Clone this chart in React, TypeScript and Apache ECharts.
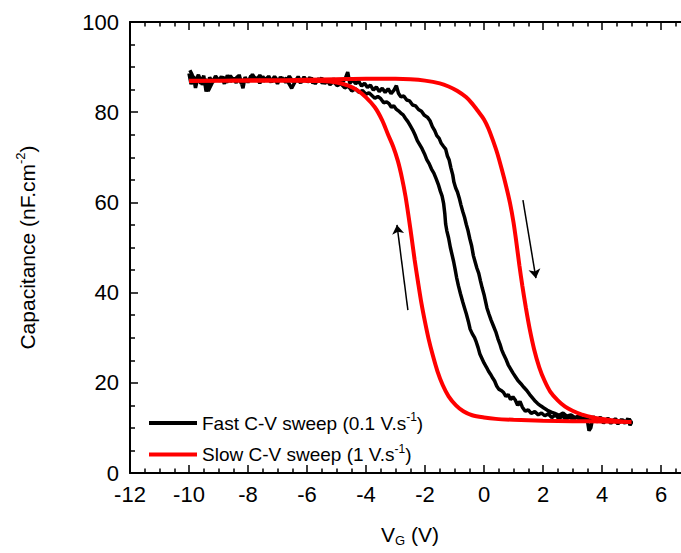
import React, { useEffect, useRef } from "react";
import * as echarts from "echarts";

// ---------- data ----------
const fastLabel = "Fast C-V sweep (0.1 V.s-1)";
const slowLabel = "Slow C-V sweep (1 V.s-1)";

const xTickMin = -12;
const xTickMax = 8;
const xTickStep = 2;
const yTickMin = 0;
const yTickMax = 100;
const yTickStep = 20;

// fast sweep, forward (-10 -> 5)
const fastForward: number[][] = [
  [-10.0, 88.6], [-9.93, 86.2], [-9.85, 88.0], [-9.78, 85.4], [-9.7, 87.6], [-9.6, 86.4], [-9.5, 88.1], [-9.42, 84.6],
  [-9.3, 87.7], [-9.2, 86.6], [-9.1, 88.0], [-9.0, 86.9], [-8.9, 87.9], [-8.8, 86.3], [-8.7, 88.2], [-8.6, 86.8],
  [-8.5, 87.6], [-8.4, 86.5], [-8.3, 88.3], [-8.17, 85.3], [-8.1, 87.8], [-8.0, 86.6], [-7.9, 88.1], [-7.8, 87.1],
  [-7.7, 87.7], [-7.6, 86.4], [-7.5, 87.9], [-7.4, 86.9], [-7.3, 88.0], [-7.2, 86.7], [-7.1, 87.5], [-7.0, 86.3],
  [-6.9, 87.8], [-6.8, 87.0], [-6.7, 87.6], [-6.6, 86.2], [-6.52, 85.3], [-6.4, 86.8], [-6.3, 87.9], [-6.2, 86.6],
  [-6.1, 87.5], [-6.0, 86.9], [-5.9, 87.7], [-5.8, 86.4], [-5.7, 87.3], [-5.6, 86.8], [-5.5, 87.6], [-5.4, 86.3],
  [-5.3, 87.2], [-5.2, 86.7], [-5.1, 87.4], [-5.0, 86.5], [-4.9, 87.1], [-4.8, 86.6], [-4.7, 87.5], [-4.62, 88.9],
  [-4.55, 86.4], [-4.45, 87.2], [-4.35, 86.3], [-4.25, 86.9], [-4.15, 85.8], [-4.05, 86.4], [-3.95, 85.5], [-3.85, 86.0],
  [-3.75, 84.9], [-3.65, 85.6], [-3.55, 84.6], [-3.45, 85.3], [-3.35, 84.4], [-3.25, 85.2], [-3.15, 84.1], [-3.05, 84.9],
  [-2.97, 85.9], [-2.9, 84.2], [-2.82, 83.4], [-2.72, 83.6], [-2.62, 82.7], [-2.52, 82.5], [-2.42, 81.6], [-2.32, 81.4],
  [-2.22, 80.6], [-2.12, 80.2], [-2.02, 79.3], [-1.92, 78.9], [-1.83, 78.1], [-1.75, 76.8], [-1.67, 75.9], [-1.6, 74.8],
  [-1.52, 74.2], [-1.45, 73.1], [-1.37, 72.4], [-1.3, 71.8], [-1.24, 70.3], [-1.18, 69.4], [-1.12, 67.6], [-1.06, 66.1],
  [-1.02, 64.5], [-0.96, 63.2], [-0.9, 62.3], [-0.84, 61.0], [-0.78, 59.4], [-0.72, 58.0], [-0.66, 56.7], [-0.6, 55.1],
  [-0.54, 53.7], [-0.48, 51.9], [-0.42, 50.4], [-0.36, 48.2], [-0.3, 46.8], [-0.24, 45.4], [-0.18, 44.3], [-0.12, 42.6],
  [-0.06, 41.0], [0.0, 39.6], [0.05, 38.1], [0.1, 36.6], [0.17, 35.2], [0.24, 33.9], [0.32, 32.6], [0.4, 31.3],
  [0.47, 29.8], [0.54, 28.6], [0.6, 27.3], [0.66, 26.4], [0.74, 25.3], [0.82, 24.0], [0.9, 23.1], [0.98, 22.2],
  [1.06, 21.4], [1.15, 20.5], [1.25, 19.8], [1.35, 19.0], [1.45, 18.3], [1.55, 17.4], [1.65, 16.6], [1.74, 15.9],
  [1.82, 15.4], [1.92, 14.9], [2.03, 14.4], [2.15, 13.9], [2.28, 13.5], [2.4, 13.2], [2.55, 12.8], [2.68, 13.3],
  [2.8, 12.6], [2.95, 12.9], [3.1, 12.2], [3.22, 12.7], [3.35, 11.9], [3.48, 12.5], [3.58, 11.3], [3.7, 12.4],
  [3.82, 11.7], [3.95, 12.3], [4.08, 11.5], [4.2, 12.1], [4.32, 11.4], [4.45, 12.0], [4.58, 11.2], [4.7, 11.8],
  [4.82, 11.1], [4.92, 12.0], [5.0, 11.2],
];

// fast sweep, reverse (5 -> -10)
const fastReverse: number[][] = [
  [5.0, 11.2], [4.95, 10.6], [4.88, 12.1], [4.78, 11.0], [4.66, 11.9], [4.54, 10.9], [4.42, 11.8], [4.3, 11.0],
  [4.18, 11.9], [4.05, 11.1], [3.92, 12.2], [3.8, 11.3], [3.7, 12.6], [3.62, 10.0], [3.56, 9.4], [3.5, 11.8],
  [3.4, 12.4], [3.28, 11.5], [3.15, 12.5], [3.02, 11.7], [2.9, 12.6], [2.78, 11.8], [2.66, 12.7], [2.54, 12.0],
  [2.42, 12.9], [2.3, 12.3], [2.18, 13.1], [2.06, 12.7], [1.95, 13.3], [1.84, 12.9], [1.72, 13.6], [1.6, 13.2],
  [1.5, 14.0], [1.4, 13.7], [1.3, 14.6], [1.22, 15.9], [1.14, 15.0], [1.06, 16.2], [0.98, 16.9], [0.9, 16.3],
  [0.82, 17.4], [0.74, 17.0], [0.66, 17.9], [0.58, 18.3], [0.5, 18.6], [0.43, 19.3], [0.36, 20.4], [0.3, 21.0],
  [0.22, 21.9], [0.15, 22.6], [0.08, 23.5], [0.0, 24.4], [-0.07, 25.4], [-0.14, 26.4], [-0.2, 27.8], [-0.26, 29.0],
  [-0.32, 30.0], [-0.4, 30.9], [-0.47, 31.9], [-0.53, 33.6], [-0.6, 35.3], [-0.66, 36.6], [-0.72, 37.9], [-0.8, 39.8],
  [-0.87, 41.6], [-0.93, 43.4], [-0.98, 45.2], [-1.03, 46.9], [-1.08, 48.3], [-1.14, 50.0], [-1.2, 52.1], [-1.26, 53.7],
  [-1.3, 55.2], [-1.33, 57.6], [-1.37, 59.8], [-1.42, 61.4], [-1.48, 62.5], [-1.55, 64.0], [-1.62, 65.2], [-1.7, 66.5],
  [-1.78, 67.4], [-1.86, 68.6], [-1.94, 69.5], [-2.02, 70.8], [-2.1, 71.9], [-2.18, 72.8], [-2.26, 73.7], [-2.34, 75.0],
  [-2.42, 76.1], [-2.5, 77.0], [-2.58, 77.9], [-2.66, 78.6], [-2.74, 79.4], [-2.82, 79.8], [-2.9, 80.3], [-2.98, 80.7],
  [-3.06, 81.4], [-3.14, 81.1], [-3.22, 81.9], [-3.3, 82.3], [-3.4, 82.1], [-3.5, 83.0], [-3.6, 83.5], [-3.7, 83.1],
  [-3.8, 83.7], [-3.9, 84.3], [-4.0, 84.0], [-4.12, 84.8], [-4.24, 84.4], [-4.36, 85.2], [-4.48, 84.7], [-4.6, 85.8],
  [-4.72, 85.4], [-4.85, 86.3], [-4.98, 85.9], [-5.1, 86.8], [-5.22, 86.1], [-5.35, 87.3], [-5.48, 86.4], [-5.6, 87.5],
  [-5.72, 86.3], [-5.85, 87.6], [-5.98, 86.7], [-6.1, 87.8], [-6.22, 86.5], [-6.35, 87.4], [-6.48, 86.8], [-6.6, 88.0],
  [-6.72, 86.6], [-6.85, 87.7], [-6.98, 86.9], [-7.1, 87.9], [-7.22, 86.7], [-7.35, 87.6], [-7.48, 86.9], [-7.6, 88.2],
  [-7.72, 87.0], [-7.85, 88.4], [-7.98, 86.8], [-8.1, 87.6], [-8.22, 86.3], [-8.35, 87.9], [-8.48, 87.0], [-8.6, 88.1],
  [-8.72, 86.6], [-8.85, 87.8], [-8.98, 86.9], [-9.1, 88.0], [-9.22, 86.4], [-9.35, 84.7], [-9.45, 87.4], [-9.55, 86.1],
  [-9.68, 88.3], [-9.8, 86.6], [-9.9, 88.4], [-9.97, 89.3],
];

// slow sweep, forward (-10 -> 5)
const slowForward: number[][] = [
  [-10, 87.0], [-9, 87.0], [-8, 87.1], [-7, 87.1], [-6, 87.2], [-5, 87.3], [-4, 87.4], [-3.5, 87.4],
  [-3, 87.4], [-2.5, 87.3], [-2, 87.0], [-1.5, 86.4], [-1.2, 85.7], [-0.9, 84.7], [-0.6, 83.3], [-0.4, 81.9],
  [-0.2, 80.2], [0.0, 78.4], [0.15, 76.4], [0.3, 73.8], [0.45, 70.9], [0.6, 67.4], [0.75, 63.6], [0.88, 59.9],
  [1.0, 55.6], [1.1, 51.0], [1.2, 46.0], [1.3, 41.5], [1.42, 36.6], [1.55, 31.9], [1.7, 27.4], [1.87, 23.5],
  [2.05, 20.5], [2.25, 18.0], [2.5, 16.1], [2.75, 14.7], [3.0, 13.8], [3.3, 13.0], [3.7, 12.3], [4.2, 11.8],
  [4.6, 11.5], [5.0, 11.3],
];

// slow sweep, reverse (5 -> -10)
const slowReverse: number[][] = [
  [5.0, 11.3], [4.0, 11.4], [3.0, 11.5], [2.0, 11.6], [1.0, 11.8], [0.4, 12.0], [0.0, 12.3], [-0.4, 12.8],
  [-0.7, 13.7], [-0.95, 15.0], [-1.2, 17.0], [-1.4, 19.5], [-1.58, 22.6], [-1.74, 26.2], [-1.88, 29.8], [-2.0, 33.5],
  [-2.12, 37.6], [-2.24, 42.5], [-2.35, 47.2], [-2.45, 52.0], [-2.55, 56.6], [-2.66, 61.3], [-2.78, 65.4], [-2.92, 69.2],
  [-3.08, 72.4], [-3.25, 75.0], [-3.45, 78.2], [-3.7, 81.1], [-4.0, 83.3], [-4.3, 84.9], [-4.6, 85.9], [-5.0, 86.6],
  [-5.5, 86.9], [-6.5, 87.0], [-8, 87.0], [-10, 86.9],
];

// sweep direction arrows [from, to]
const arrowUp: number[][] = [[-2.58, 36.1], [-2.95, 55.0]];
const arrowDown: number[][] = [[1.32, 60.5], [1.76, 43.2]];

// ---------- chart ----------
const FONT = "'Liberation Sans', Arial, Helvetica, sans-serif";

const legendRichStyle = {
  a: { fontSize: 19, fontFamily: FONT, color: "#000", lineHeight: 24 },
  sup: { fontSize: 12, fontFamily: FONT, color: "#000", lineHeight: 24, verticalAlign: "top" },
};

const titleRichStyle = {
  a: { fontSize: 21, fontFamily: FONT, color: "#000", lineHeight: 26 },
  sup: { fontSize: 13, fontFamily: FONT, color: "#000", lineHeight: 26, verticalAlign: "top" },
  sub: { fontSize: 13, fontFamily: FONT, color: "#000", lineHeight: 26, verticalAlign: "bottom" },
};

function legendRich(name: string): string {
  if (name === fastLabel) return "{a|Fast C-V sweep (0.1 V.s}{sup|-1}{a|)}";
  if (name === slowLabel) return "{a|Slow C-V sweep (1 V.s}{sup|-1}{a|)}";
  return name;
}

export default function App() {
  const ref = useRef<HTMLDivElement>(null);

  useEffect(() => {
    if (!ref.current) return;
    const chart = echarts.init(ref.current, undefined, { renderer: "svg" });

    const axisLine = { show: true, onZero: false, lineStyle: { color: "#000", width: 2 } };
    const tickStyle = { color: "#000", width: 1.5 };

    const option: any = {
      animation: false,
      backgroundColor: "#fff",
      grid: { left: 130, top: 22, width: 590, height: 451, containLabel: false },
      legend: {
        data: [fastLabel, slowLabel],
        orient: "vertical",
        left: 144,
        top: 406,
        icon: "rect",
        itemWidth: 48,
        itemHeight: 4,
        itemGap: 10,
        selectedMode: false,
        formatter: legendRich,
        textStyle: { fontSize: 19, fontFamily: FONT, color: "#000", rich: legendRichStyle },
      },
      xAxis: [
        {
          type: "value",
          position: "bottom",
          min: xTickMin,
          max: xTickMax,
          interval: xTickStep,
          name: "{a|V}{sub|G}{a| (V)}",
          nameLocation: "middle",
          nameGap: 48,
          nameTextStyle: { rich: titleRichStyle, padding: [0, 30, 0, 0] },
          axisLine,
          axisTick: { show: true, inside: true, length: 8, lineStyle: tickStyle },
          minorTick: { show: true, splitNumber: 4, length: 4.5, lineStyle: tickStyle },
          axisLabel: { fontSize: 22, fontFamily: FONT, color: "#000", margin: 10, showMaxLabel: false },
          splitLine: { show: false },
        },
        {
          type: "value",
          position: "top",
          min: xTickMin,
          max: xTickMax,
          interval: xTickStep,
          axisLine,
          axisTick: { show: true, inside: true, length: 8, lineStyle: tickStyle },
          minorTick: { show: true, splitNumber: 4, length: 4.5, lineStyle: tickStyle },
          axisLabel: { show: false },
          splitLine: { show: false },
        },
      ],
      yAxis: [
        {
          type: "value",
          position: "left",
          min: yTickMin,
          max: yTickMax,
          interval: yTickStep,
          name: "{a|Capacitance (nF.cm}{sup|-2}{a|)}",
          nameLocation: "middle",
          nameGap: 90,
          nameTextStyle: { rich: titleRichStyle },
          axisLine,
          axisTick: { show: true, inside: true, length: 8, lineStyle: tickStyle },
          minorTick: { show: true, splitNumber: 4, length: 5, lineStyle: tickStyle },
          axisLabel: { fontSize: 22, fontFamily: FONT, color: "#000", margin: 11 },
          splitLine: { show: false },
        },
      ],
      series: [
        {
          name: fastLabel,
          type: "line",
          xAxisIndex: 0,
          yAxisIndex: 0,
          data: fastForward.concat(fastReverse),
          symbol: "none",
          lineStyle: { color: "#000", width: 3.5 },
          itemStyle: { color: "#000" },
          emphasis: { disabled: true },
          markLine: {
            silent: true,
            symbol: ["none", "arrow"],
            symbolSize: 9,
            label: { show: false },
            lineStyle: { color: "#000", width: 1.5, type: "solid" },
            emphasis: { disabled: true },
            data: [
              [{ coord: arrowUp[0] }, { coord: arrowUp[1] }],
              [{ coord: arrowDown[0] }, { coord: arrowDown[1] }],
            ],
          },
        },
        {
          name: slowLabel,
          type: "line",
          xAxisIndex: 0,
          yAxisIndex: 0,
          data: slowForward.concat(slowReverse),
          symbol: "none",
          smooth: 0.3,
          lineStyle: { color: "#ff0000", width: 4 },
          itemStyle: { color: "#ff0000" },
          emphasis: { disabled: true },
        },
      ],
    };

    chart.setOption(option);
    return () => chart.dispose();
  }, []);

  return (
    <div
      ref={ref}
      style={{ position: "fixed", left: 0, top: 0, width: 720, height: 553, background: "#fff" }}
    />
  );
}
